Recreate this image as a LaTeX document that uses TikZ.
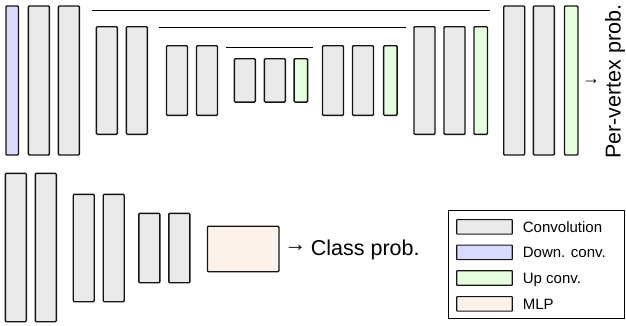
\documentclass[tikz,border=0pt]{standalone}
\usepackage{fontspec}
\setmainfont{Liberation Sans}
\usepackage{xcolor}
\usepackage{tikz}
\definecolor{convgray}{RGB}{234,234,234}
\definecolor{downblue}{RGB}{218,218,255}
\definecolor{upgreen}{RGB}{230,255,222}
\definecolor{mlppeach}{RGB}{253,242,234}
\begin{document}
\begin{tikzpicture}[x=1pt,y=-1pt,
        blk/.style={draw=black!92, line width=1.4pt, rounded corners=1pt, inner sep=0pt},
        conv/.style={blk, fill=convgray, minimum width=21pt, minimum height=#1},
        down/.style={blk, fill=downblue, minimum width=12.5pt, minimum height=#1},
        up/.style={blk, fill=upgreen, minimum width=13.5pt, minimum height=#1},
        mlp/.style={blk, fill=mlppeach, minimum width=71.5pt, minimum height=45.5pt},
        swatch/.style={blk, line width=1.1pt, rounded corners=0.5pt, minimum width=55.5pt, minimum height=14.5pt},
        leglabel/.style={anchor=base west, inner sep=0pt, font=\fontsize{15}{18}\selectfont},
        bigtext/.style={inner sep=0pt, font=\fontsize{21.5}{26}\selectfont},
        skip/.style={line width=1pt}]
            \useasboundingbox (0,0) rectangle (626,325);
            % segmentation branch
            \node[down=149pt] (D1) at (12.2,80.5) {};
            \node[conv=149pt] (C1) at (38.8,80.5) {};
            \node[conv=149pt] (C2) at (68.8,80.5) {};
            \node[conv=107.6pt] (C3) at (106.8,80.5) {};
            \node[conv=107.6pt] (C4) at (136.8,80.5) {};
            \node[conv=69.6pt] (C5) at (177,80.5) {};
            \node[conv=69.6pt] (C6) at (207,80.5) {};
            \node[conv=43.3pt] (C7) at (244.8,80.4) {};
            \node[conv=43.3pt] (C8) at (274.8,80.4) {};
            \node[up=43.3pt] (U1) at (300.8,80.4) {};
            \node[conv=69.6pt] (C9) at (333,80.5) {};
            \node[conv=69.6pt] (C10) at (363,80.5) {};
            \node[up=69.6pt] (U2) at (390.3,80.5) {};
            \node[conv=107.6pt] (C11) at (424.5,80.5) {};
            \node[conv=107.6pt] (C12) at (454.5,80.5) {};
            \node[up=107.6pt] (U3) at (480.7,80.5) {};
            \node[conv=149pt] (C13) at (514.2,80.5) {};
            \node[conv=149pt] (C14) at (543.8,80.5) {};
            \node[up=149pt] (U4) at (571.2,80.5) {};
            % skip connections
            \coordinate (S1L) at (91.7,10.7);
            \coordinate (S1R) at (490,10.7);
            \coordinate (S2L) at (158.7,27.7);
            \coordinate (S2R) at (406,27.7);
            \coordinate (S3L) at (226,47.7);
            \coordinate (S3R) at (313.3,47.7);
            \draw[skip] (S1L) -- (S1R);
            \draw[skip] (S2L) -- (S2R);
            \draw[skip] (S3L) -- (S3R);
            \node[inner sep=0pt, font=\fontsize{18}{20}\selectfont] (PA) at (591,81.5) {→};
            \node[bigtext, anchor=base west, rotate=90] (PV) at (620.5,159) {Per-vertex prob.};
            % classification branch
            \node[conv=148.4pt] (K1) at (15.8,247.5) {};
            \node[conv=148.4pt] (K2) at (45.8,247.5) {};
            \node[conv=107.4pt] (K3) at (83.7,248) {};
            \node[conv=107.4pt] (K4) at (113.7,248) {};
            \node[conv=69.4pt] (K5) at (149.3,248) {};
            \node[conv=69.4pt] (K6) at (179.3,248) {};
            \node[mlp] (M) at (243.2,249) {};
            \node[bigtext, font=\fontsize{22}{26}\selectfont] (CA) at (295.3,248) {→};
            \node[bigtext, anchor=base west] (CP) at (310.7,255.7) {Class prob.};
            % legend
            \node[draw, line width=1pt, minimum width=175.7pt, minimum height=108.2pt, inner sep=0pt] (LG) at (536.2,264.4) {};
            \node[swatch, fill=convgray] (LC) at (484.5,226.8) {};
            \node[swatch, fill=downblue] (LD) at (484.5,252.3) {};
            \node[swatch, fill=upgreen] (LU) at (484.5,278) {};
            \node[swatch, fill=mlppeach] (LM) at (484.5,303.8) {};
            \node[leglabel] at (522.7,232) {Convolution};
            \node[leglabel] at (522.7,257.5) {Down. conv.};
            \node[leglabel] at (522.7,283.2) {Up conv.};
            \node[leglabel] at (522.7,309) {MLP};
        \end{tikzpicture}
\end{document}
